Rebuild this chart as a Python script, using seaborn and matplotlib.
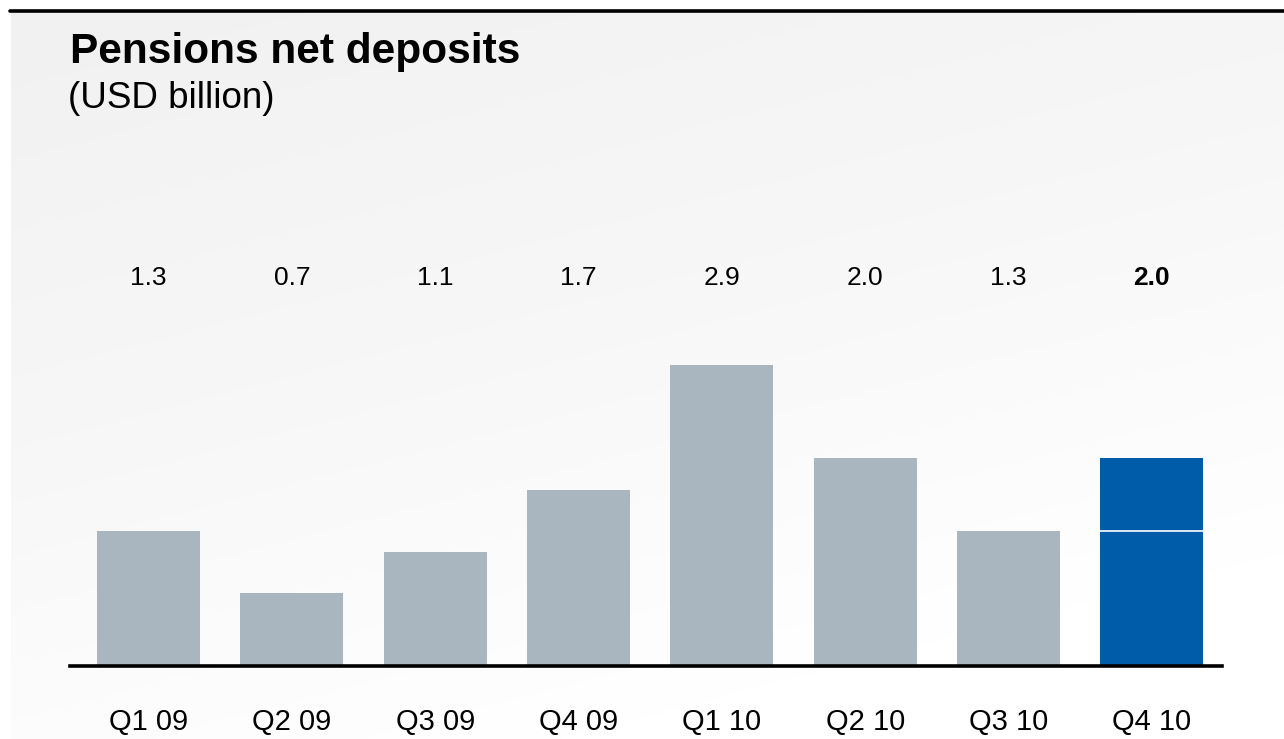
import numpy as np
import pandas as pd
import matplotlib
matplotlib.use("Agg")
import matplotlib.pyplot as plt
import seaborn as sns

quarters = ["Q1 09", "Q2 09", "Q3 09", "Q4 09", "Q1 10", "Q2 10", "Q3 10", "Q4 10"]
totals = [1.3, 0.7, 1.1, 1.7, 2.9, 2.0, 1.3, 2.0]
value_labels = ["1.3", "0.7", "1.1", "1.7", "2.9", "2.0", "1.3", "2.0"]
q4_lower = 1.3  # split inside the Q4 10 bar
highlight = "Q4 10"

sns.set_theme(style="white")
plt.rcParams['font.family'] = ['Liberation Sans', 'DejaVu Sans']
plt.rcParams['text.color'] = 'black'

W, H = 1284, 739
fig = plt.figure(figsize=(W / 100, H / 100), dpi=100)
fig.patch.set_facecolor("white")

# background panel with soft diagonal gradient
bg = fig.add_axes([11 / W, 0, 1 - 11 / W, 1 - 12 / H], zorder=-10)
xx, yy = np.meshgrid(np.linspace(0, 1, 300), np.linspace(0, 1, 200))
t = np.clip((xx * 0.45 + yy * 1.0) / 1.2, 0, 1)
bg.imshow(t, cmap=matplotlib.colors.LinearSegmentedColormap.from_list("g", ["#f1f1f1", "#f7f7f7", "#ffffff"]),
          aspect="auto", extent=[0, 1, 0, 1], origin="upper")
bg.set_axis_off()

# top rule
fig.add_artist(plt.Line2D([10 / W, 1], [1 - 10.5 / H, 1 - 10.5 / H], color="black", lw=2.6))

# main axes
ax_left, ax_right = 70 / W, 1222 / W
base_px = 666
top_px = 250
ax = fig.add_axes([ax_left, (H - base_px) / H, ax_right - ax_left, (base_px - top_px) / H])
ax.patch.set_alpha(0)

df = pd.DataFrame({"quarter": quarters, "value": totals})
df["kind"] = ["hl" if q == highlight else "base" for q in quarters]
sns.barplot(data=df, x="quarter", y="value", hue="kind", palette={"base": "#a9b6c0", "hl": "#005ba8"},
            width=0.72, dodge=False, legend=False, ax=ax, saturation=1, linewidth=0)

px_per_unit = (666 - 365) / 2.9
ax.set_ylim(0, (base_px - top_px) / px_per_unit)
ax.set_xlim(-0.548, 7.49)

i_hl = quarters.index(highlight)
ax.hlines(q4_lower, i_hl - 0.36, i_hl + 0.36, color="white", lw=1.2)

label_y = (base_px - 278) / px_per_unit
for i, lab in enumerate(value_labels):
    ax.text(i, label_y, lab, ha="center", va="center", fontsize=19,
            fontweight="bold" if quarters[i] == highlight else "normal", color="black")

for s in ["top", "right", "left"]:
    ax.spines[s].set_visible(False)
ax.spines["bottom"].set_linewidth(2.6)
ax.spines["bottom"].set_color("black")
ax.set_yticks([])
ax.set_xlabel("")
ax.set_ylabel("")
ax.tick_params(axis="x", length=0, pad=30, labelsize=21, labelcolor="black")

fig.text(70 / W, 1 - 52 / H, "Pensions net deposits", fontsize=30.5, fontweight="bold",
         va="center", ha="left", color="black")
fig.text(68 / W, 1 - 99 / H, "(USD billion)", fontsize=26.5, va="center", ha="left", color="black")

fig.savefig("out.png", dpi=100)
